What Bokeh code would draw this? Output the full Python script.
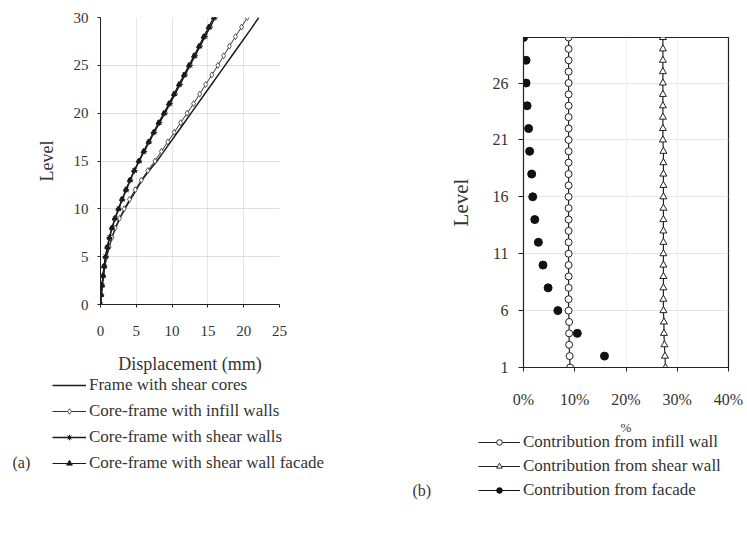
from bokeh.plotting import figure
from bokeh.layouts import row, column
from bokeh.models import Range1d, Legend, LegendItem, Label, FixedTicker, PrintfTickFormatter
from bokeh.embed import file_html
from bokeh.resources import INLINE

# ---------------- data: panel (a) ----------------
levels_a = list(range(0, 31))
frame_cores = [0.0, 0.1, 0.25, 0.4, 0.6, 0.85, 1.2, 1.6, 2.1, 2.7, 3.4,
               4.2, 5.0, 5.8, 6.8, 7.9, 8.85, 9.8, 10.75, 11.7, 12.65,
               13.6, 14.55, 15.5, 16.45, 17.4, 18.35, 19.3, 20.25, 21.2, 22.1]
infill_walls = [0.0, 0.1, 0.25, 0.4, 0.6, 0.85, 1.2, 1.6, 2.05, 2.65, 3.3,
                4.05, 4.85, 5.7, 6.6, 7.6, 8.5, 9.4, 10.3, 11.2, 12.1,
                13.0, 13.85, 14.7, 15.55, 16.4, 17.2, 18.0, 18.85, 19.7, 20.5]
shear_walls = [0.0, 0.1, 0.2, 0.35, 0.5, 0.7, 0.95, 1.25, 1.6, 2.05, 2.55,
               3.05, 3.6, 4.15, 4.75, 5.4, 6.1, 6.8, 7.5, 8.25, 9.0,
               9.7, 10.4, 11.1, 11.8, 12.5, 13.2, 13.9, 14.6, 15.3, 16.0]
shear_facade = [0.0, 0.1, 0.2, 0.35, 0.5, 0.7, 0.95, 1.25, 1.6, 2.0, 2.5,
                3.0, 3.55, 4.1, 4.7, 5.35, 6.0, 6.7, 7.4, 8.1, 8.85,
                9.55, 10.25, 10.95, 11.65, 12.35, 13.05, 13.75, 14.4, 15.1, 15.8]
x_ticks_a = [0, 5, 10, 15, 20, 25]
y_ticks_a = [0, 5, 10, 15, 20, 25, 30]
legend_a = ["Frame with shear cores", "Core-frame with infill walls",
            "Core-frame with shear walls", "Core-frame with shear wall facade"]

# ---------------- data: panel (b) ----------------
levels_b = list(range(1, 31))
contrib_infill = [9.1, 9.0, 8.9, 8.9, 8.9, 8.8, 8.8, 8.8, 8.8, 8.8,
                  8.8, 8.8, 8.8, 8.8, 8.8, 8.8, 8.8, 8.8, 8.8, 8.8,
                  8.8, 8.8, 8.8, 8.8, 8.8, 8.8, 8.8, 8.8, 8.8, 8.8]
contrib_shear = [27.7, 27.6, 27.5, 27.4, 27.4, 27.3, 27.3, 27.3, 27.3, 27.3,
                 27.3, 27.3, 27.3, 27.3, 27.3, 27.3, 27.3, 27.3, 27.3, 27.3,
                 27.2, 27.2, 27.2, 27.2, 27.2, 27.2, 27.2, 27.2, 27.2, 27.2]
facade_levels = [2, 4, 6, 8, 10, 12, 14, 16, 18, 20, 22, 24, 26, 28, 30]
contrib_facade = [15.8, 10.5, 6.7, 4.8, 3.8, 2.9, 2.2, 1.8, 1.6, 1.2, 1.0, 0.7, 0.5, 0.5, 0.0]
x_ticks_b = [0, 10, 20, 30, 40]
y_ticks_b = [1, 6, 11, 16, 21, 26]
legend_b = ["Contribution from infill wall", "Contribution from shear wall",
            "Contribution from facade"]

FONT = "Liberation Serif"
TXT = "#333333"
INK = "#1a1a1a"


def style_axes(p, size):
    for ax in (p.xaxis[0], p.yaxis[0]):
        ax.major_label_text_font = FONT
        ax.major_label_text_font_size = size
        ax.major_label_text_color = TXT
        ax.axis_label_text_font = FONT
        ax.axis_label_text_font_style = "normal"
        ax.axis_label_text_color = TXT
        ax.minor_tick_line_color = None
        ax.major_tick_in = 0
        ax.axis_line_color = "#222222"
        ax.major_tick_line_color = "#222222"


def legend_fig(w, h, top_overlap):
    # legend-only panel; its ranges lie outside the data so only the legend shows
    f = figure(width=w, height=h, x_range=Range1d(-3, -2), y_range=Range1d(-3, -2),
               x_axis_location=None, y_axis_location=None,
               output_backend="svg", toolbar_location=None,
               min_border_left=0, min_border_right=0, min_border_top=0, min_border_bottom=0)
    f.outline_line_color = None
    f.grid.visible = False
    f.frame_align = False
    f.background_fill_alpha = 0
    f.border_fill_alpha = 0
    f.margin = (-top_overlap, 0, 0, 0)
    return f


def style_legend(leg, size, spacing, glyph_w):
    leg.border_line_color = None
    leg.background_fill_alpha = 0
    leg.padding = 0
    leg.margin = 0
    leg.spacing = spacing
    leg.glyph_width = glyph_w
    leg.glyph_height = 14
    leg.label_height = 14
    leg.label_standoff = 3
    leg.label_text_font = FONT
    leg.label_text_font_size = size
    leg.label_text_color = TXT


# ---------------- panel (a) chart ----------------
p1 = figure(width=380, height=384, x_range=Range1d(0, 25), y_range=Range1d(0, 30),
            output_backend="svg", toolbar_location=None,
            min_border_left=100, min_border_right=101, min_border_top=17, min_border_bottom=80)
p1.frame_align = False
p1.outline_line_color = None
p1.xaxis.ticker = FixedTicker(ticks=x_ticks_a)
p1.yaxis.ticker = FixedTicker(ticks=y_ticks_a)
p1.xgrid.grid_line_color = "#e6e6e6"
p1.ygrid.grid_line_color = "#dedede"
style_axes(p1, "15px")
p1.xaxis.axis_label = "Displacement (mm)"
p1.yaxis.axis_label = "Level"
p1.xaxis.axis_label_text_font_size = "18px"
p1.yaxis.axis_label_text_font_size = "18px"
p1.xaxis.major_tick_out = 3
p1.yaxis.major_tick_out = 3
p1.xaxis.major_label_standoff = 18
p1.yaxis.major_label_standoff = 9
p1.xaxis.axis_label_standoff = 15
p1.yaxis.axis_label_standoff = 14


def draw_a(f):
    r0 = f.line(frame_cores, levels_a, line_color=INK, line_width=1.5)
    r1l = f.line(infill_walls, levels_a, line_color="#333333", line_width=1.0)
    r1m = f.scatter(infill_walls, levels_a, marker="diamond", size=6,
                    line_color="#333333", fill_color="white", line_width=0.8)
    r2l = f.line(shear_walls, levels_a, line_color=INK, line_width=1.5)
    r2m = f.scatter(shear_walls, levels_a, marker="asterisk", size=6, line_color=INK, line_width=1.0)
    r3l = f.line(shear_facade, levels_a, line_color=INK, line_width=1.2)
    r3m = f.scatter(shear_facade, levels_a, marker="triangle", size=5, line_color=INK, fill_color=INK)
    return [[r0], [r1l, r1m], [r2l, r2m], [r3l, r3m]]


draw_a(p1)

# ---------------- panel (a) legend ----------------
l1 = legend_fig(380, 170, 9)          # starts at y = 375
rs_a = draw_a(l1)
leg1 = Legend(items=[LegendItem(label=t, renderers=r) for t, r in zip(legend_a, rs_a)],
              location=(52, 72))
style_legend(leg1, "17px", 6, 34)
l1.add_layout(leg1)
l1.add_layout(Label(x=12, y=83, x_units="screen", y_units="screen", text="(a)",
                    text_font=FONT, text_font_size="16px", text_color=TXT,
                    text_baseline="middle"))

# ---------------- panel (b) chart ----------------
p2 = figure(width=365, height=453, x_range=Range1d(0, 40), y_range=Range1d(1, 30),
            output_backend="svg", toolbar_location=None,
            min_border_left=143, min_border_right=17, min_border_top=37, min_border_bottom=86)
p2.frame_align = False
p2.outline_line_color = "#222222"
p2.outline_line_width = 1.2
p2.xaxis.ticker = FixedTicker(ticks=x_ticks_b)
p2.yaxis.ticker = FixedTicker(ticks=y_ticks_b)
p2.xaxis.formatter = PrintfTickFormatter(format="%d%%")
p2.xgrid.grid_line_color = "#f0f0f0"
p2.ygrid.grid_line_color = "#e6e6e6"
style_axes(p2, "16px")
p2.xaxis.axis_label = "%"
p2.yaxis.axis_label = "Level"
p2.xaxis.axis_label_text_font_size = "13px"
p2.yaxis.axis_label_text_font_size = "21px"
p2.xaxis.major_tick_out = 4
p2.yaxis.major_tick_out = 5
p2.xaxis.major_label_standoff = 19
p2.yaxis.major_label_standoff = 10
p2.xaxis.axis_label_standoff = 9
p2.yaxis.axis_label_standoff = 17


def draw_b(f, ms):
    r0l = f.line(contrib_infill, levels_b, line_color="#222222", line_width=1.2)
    r0m = f.scatter(contrib_infill, levels_b, marker="circle", size=ms,
                    line_color="#222222", fill_color="white", line_width=1.0)
    r1l = f.line(contrib_shear, levels_b, line_color="#222222", line_width=1.2)
    r1m = f.scatter(contrib_shear, levels_b, marker="triangle", size=ms,
                    line_color="#222222", fill_color="white", line_width=1.0)
    r2m = f.scatter(contrib_facade, facade_levels, marker="circle", size=ms + 1,
                    line_color="#111111", fill_color="#111111")
    return [[r0l, r0m], [r1l, r1m], [r2m]]


draw_b(p2, 7)

# ---------------- panel (b) legend ----------------
l2 = legend_fig(365, 113, 23)         # starts at y = 430
rs_b = draw_b(l2, 6)
r_line_f = l2.line(contrib_facade, facade_levels, line_color="#111111", line_width=1.2)
rs_b[2] = [r_line_f] + rs_b[2]
leg2 = Legend(items=[LegendItem(label=t, renderers=r) for t, r in zip(legend_b, rs_b)],
              location=(98, 43))
style_legend(leg2, "17px", 4, 42)
l2.add_layout(leg2)
l2.add_layout(Label(x=32, y=53, x_units="screen", y_units="screen", text="(b)",
                    text_font=FONT, text_font_size="16px", text_color=TXT,
                    text_baseline="middle"))

layout = row(column(p1, l1), column(p2, l2))
open("out.html", "w").write(file_html(layout, INLINE))
